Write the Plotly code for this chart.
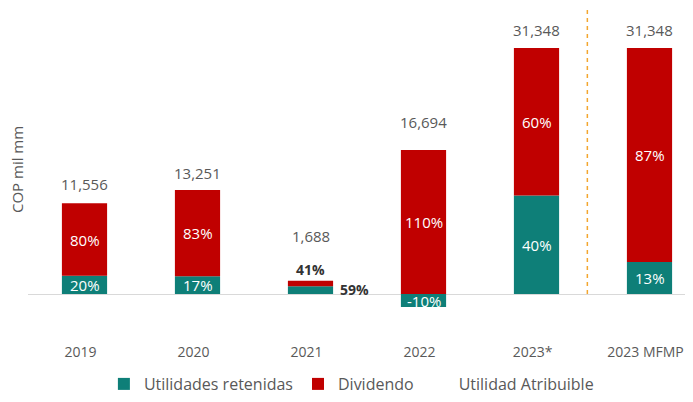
import plotly.graph_objects as go

categories = ["2019", "2020", "2021", "2022", "2023*", "2023 MFMP"]
totals = [11556, 13251, 1688, 16694, 31348, 31348]
pct_retained = [20, 17, 59, -10, 40, 13]
pct_dividend = [80, 83, 41, 110, 60, 87]

retained = [t * p / 100 for t, p in zip(totals, pct_retained)]
dividend = [t * p / 100 for t, p in zip(totals, pct_dividend)]

TEAL = "#0E7F78"
RED = "#C00000"
GRAY = "#595959"
FONT = "Open Sans"

# axis geometry (page has an 8px body margin)
y_max = 36445
y_min = -6117

fig = go.Figure()
fig.add_trace(go.Bar(x=categories, y=retained, name="Utilidades retenidas",
                     marker=dict(color=TEAL, line=dict(width=0)), width=0.4))
fig.add_trace(go.Bar(x=categories, y=dividend, name="Dividendo",
                     marker=dict(color=RED, line=dict(width=0)), width=0.4))
fig.add_trace(go.Scatter(x=[None], y=[None], mode="markers", name="Utilidad Atribuible",
                         marker=dict(color="rgba(0,0,0,0)", size=10)))

# total labels (pixel offsets above the bar top)
total_shift = [19, 17, 45, 28, 18, 18]
for i, (t, r, d, s) in enumerate(zip(totals, retained, dividend, total_shift)):
    top = max(r, 0) + d
    fig.add_annotation(x=i, y=top, text=f"{t:,}", showarrow=False, yanchor="middle",
                       yshift=s, font=dict(size=15, color=GRAY, family=FONT))

# percentage labels
for i, (c, r, d, pr, pd) in enumerate(zip(categories, retained, dividend, pct_retained, pct_dividend)):
    if c == "2021":
        fig.add_annotation(x=i, y=r + d, text=f"<b>{pd}%</b>", showarrow=False, yanchor="middle",
                           yshift=11, font=dict(size=14, color="#333333", family=FONT))
        fig.add_annotation(x=i, y=0, text=f"<b>{pr}%</b>", showarrow=False, xanchor="center",
                           yanchor="middle", xshift=44, yshift=5,
                           font=dict(size=14, color="#333333", family=FONT))
        continue
    fig.add_annotation(x=i, y=r / 2, text=f"{pr}%", showarrow=False,
                       font=dict(size=15, color="white", family=FONT))
    base = max(r, 0)
    fig.add_annotation(x=i, y=base + d / 2, text=f"{pd}%", showarrow=False,
                       font=dict(size=15, color="white", family=FONT))

# y axis title
fig.add_annotation(xref="paper", yref="paper", x=-0.0165, y=0.515, text="COP mil mm",
                   textangle=-90, showarrow=False, xanchor="center", yanchor="middle",
                   font=dict(size=15, color=GRAY, family=FONT))

# dashed separator
fig.add_shape(type="line", xref="x", yref="y", x0=4.45, x1=4.45, y0=0, y1=y_max,
              line=dict(color="#F3A62F", width=1.5, dash="4px,4px"))

fig.update_layout(
    barmode="relative",
    width=685, height=394,
    margin=dict(l=20, r=0, t=0, b=60, autoexpand=False),
    paper_bgcolor="white", plot_bgcolor="white",
    font=dict(family=FONT, color=GRAY, size=15),
    showlegend=True,
    legend=dict(orientation="h", xref="container", yref="container",
                x=0.5013, y=0.0457, xanchor="center", yanchor="middle",
                font=dict(size=16, color=GRAY, family=FONT),
                itemwidth=30, tracegroupgap=0),
    xaxis=dict(type="category", range=[-0.5, 5.385], showgrid=False, showline=False, ticks="",
               automargin=False, ticklabelshift=-4,
               tickfont=dict(size=14, color=GRAY, family=FONT)),
    yaxis=dict(range=[y_min, y_max], showgrid=False, showticklabels=False, automargin=False,
               zeroline=True, zerolinecolor="#D9D9D9", zerolinewidth=1, showline=False),
)

fig.write_html("out.html")
